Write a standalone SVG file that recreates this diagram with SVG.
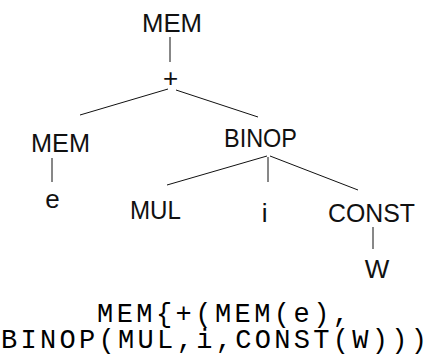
<svg xmlns="http://www.w3.org/2000/svg" width="430" height="360" viewBox="0 0 430 360">
  <style>
    .lbl { font-family: "Liberation Sans", Arial, sans-serif; font-size: 26px; fill: #111; }
    .mid { text-anchor: middle; }
    .edge { stroke: #111; stroke-width: 1; fill: none; }
    .expr { font-family: "Liberation Mono", "Courier New", monospace; font-size: 27px; fill: #000; }
  </style>
  <rect width="430" height="360" fill="#fff"/>

  <!-- tree edges -->
  <g id="connectors">
    <line class="edge" x1="170" y1="37" x2="170" y2="62"/>
    <line class="edge" x1="168" y1="89" x2="80" y2="115"/>
    <line class="edge" x1="176" y1="90" x2="258" y2="117"/>
    <line class="edge" x1="52" y1="158" x2="52" y2="182"/>
    <line class="edge" x1="267" y1="156" x2="167" y2="185"/>
    <line class="edge" x1="268" y1="157" x2="268" y2="182"/>
    <line class="edge" x1="270" y1="156" x2="358" y2="190"/>
    <line class="edge" x1="373" y1="227" x2="373" y2="249"/>
  </g>

  <!-- tree nodes -->
  <g id="mem-root"><text class="lbl" x="142" y="32" textLength="60" lengthAdjust="spacingAndGlyphs">MEM</text></g>
  <g id="plus"><text class="lbl mid" x="170.7" y="87">+</text></g>
  <g id="mem-left"><text class="lbl" x="31" y="152" textLength="59" lengthAdjust="spacingAndGlyphs">MEM</text></g>
  <g id="e"><text class="lbl mid" x="52.5" y="208">e</text></g>
  <g id="binop"><text class="lbl" x="224" y="147" textLength="73" lengthAdjust="spacingAndGlyphs">BINOP</text></g>
  <g id="mul"><text class="lbl" x="130" y="219" textLength="51" lengthAdjust="spacingAndGlyphs">MUL</text></g>
  <g id="i"><text class="lbl mid" x="264.7" y="222">i</text></g>
  <g id="const"><text class="lbl" x="328" y="222" textLength="87" lengthAdjust="spacingAndGlyphs">CONST</text></g>
  <g id="w"><text class="lbl mid" x="377" y="278">W</text></g>

  <!-- linear form of the tree -->
  <g id="expression">
    <text class="expr" x="97" y="322" textLength="252" lengthAdjust="spacing">MEM{+(MEM(e),</text>
    <text class="expr" x="1" y="348" textLength="426" lengthAdjust="spacing">BINOP(MUL,i,CONST(W)))</text>
  </g>
</svg>
